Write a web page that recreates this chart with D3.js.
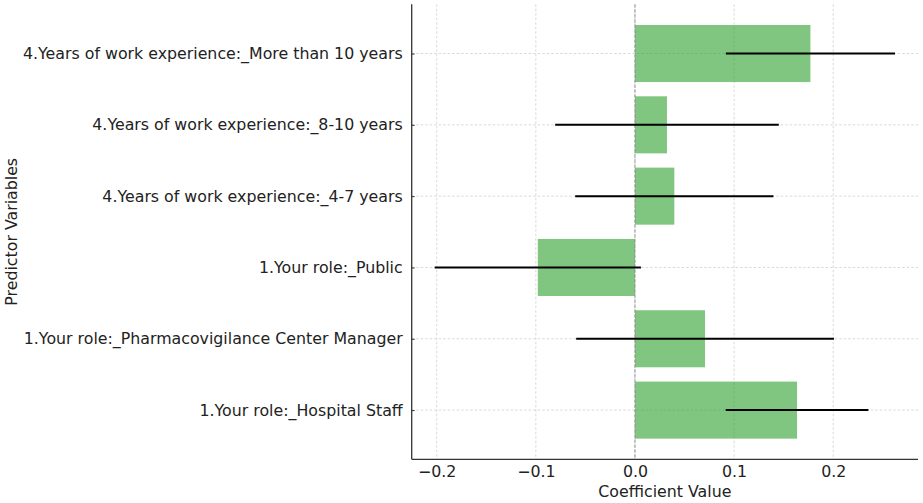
<!DOCTYPE html>
<html>
<head>
<meta charset="utf-8">
<script src="https://cdn.jsdelivr.net/npm/d3@7"></script>
<style>
  body { margin: 0; background: #fff; }
  text { font-family: "DejaVu Sans", sans-serif; }
</style>
</head>
<body>
<div id="chart"></div>
<script>
// predictors, listed bottom to top as they are drawn
let predictors = [
  '1.Your role:_Hospital Staff',
  '1.Your role:_Pharmacovigilance Center Manager',
  '1.Your role:_Public',
  '4.Years of work experience:_4-7 years',
  '4.Years of work experience:_8-10 years',
  '4.Years of work experience:_More than 10 years'
];
let coefs  = [0.1635, 0.0707, -0.0980, 0.0397, 0.0323, 0.1770]; // bar values
let errors = [0.0720, 0.1300, 0.1040, 0.1000, 0.1128, 0.0853]; // half width of the error bars
let xTicks = [-0.2, -0.1, 0.0, 0.1, 0.2];

let width  = 923;
let height = 503;
let margin = { top: 4.3, bottom: 43.7, left: 411.7, right: 5 };
let fontSize = '15.8px';

let svg = d3.select('#chart')
  .append('svg')
  .attr('width', width)
  .attr('height', height);

// x range padded 5% past the error bar ends, like the reference
let lo = d3.min(coefs, (d, i) => d - errors[i]);
let hi = d3.max(coefs, (d, i) => d + errors[i]);
let pad = (hi - lo) * 0.05;

let xScale = d3.scaleLinear()
  .domain([lo - pad, hi + pad])
  .range([margin.left, width - margin.right]);

let yScale = d3.scaleLinear()
  .domain([-0.4 - 0.29, predictors.length - 0.6 + 0.29])
  .range([height - margin.bottom, margin.top]);

let barH = yScale(0) - yScale(0.8);

// grid
svg.append('g')
  .selectAll('line.vgrid')
  .data(xTicks)
  .enter()
  .append('line')
  .attr('x1', d => xScale(d))
  .attr('x2', d => xScale(d))
  .attr('y1', margin.top)
  .attr('y2', height - margin.bottom)
  .attr('stroke', '#cfcfcf')
  .attr('stroke-width', 0.8)
  .attr('stroke-dasharray', '2.5,2');

svg.append('g')
  .selectAll('line.hgrid')
  .data(predictors)
  .enter()
  .append('line')
  .attr('x1', margin.left)
  .attr('x2', width - margin.right)
  .attr('y1', (d, i) => yScale(i))
  .attr('y2', (d, i) => yScale(i))
  .attr('stroke', '#cfcfcf')
  .attr('stroke-width', 0.8)
  .attr('stroke-dasharray', '2.5,2');

// bars
svg.append('g')
  .selectAll('rect')
  .data(coefs)
  .enter()
  .append('rect')
  .attr('x', d => xScale(Math.min(0, d)))
  .attr('y', (d, i) => yScale(i) - barH / 2)
  .attr('width', d => Math.abs(xScale(d) - xScale(0)))
  .attr('height', barH)
  .attr('fill', '#2ca02c')
  .attr('fill-opacity', 0.6);

// zero line
svg.append('line')
  .attr('x1', xScale(0))
  .attr('x2', xScale(0))
  .attr('y1', margin.top)
  .attr('y2', height - margin.bottom)
  .attr('stroke', '#8c8c8c')
  .attr('stroke-width', 0.9)
  .attr('stroke-dasharray', '3.5,1.5');

// error bars
svg.append('g')
  .selectAll('line.err')
  .data(coefs)
  .enter()
  .append('line')
  .attr('x1', (d, i) => xScale(d - errors[i]))
  .attr('x2', (d, i) => xScale(d + errors[i]))
  .attr('y1', (d, i) => yScale(i))
  .attr('y2', (d, i) => yScale(i))
  .attr('stroke', '#000')
  .attr('stroke-width', 2);

// axes
let xAxis = svg.append('g')
  .attr('transform', `translate(0,${height - margin.bottom})`)
  .call(d3.axisBottom(xScale).tickValues(xTicks).tickFormat(d3.format('.1f')).tickSize(0).tickPadding(6));

let yAxis = svg.append('g')
  .attr('transform', `translate(${margin.left},0)`)
  .call(d3.axisLeft(yScale).tickValues(d3.range(predictors.length)).tickFormat(i => predictors[i]).tickSize(-3).tickPadding(9));

[xAxis, yAxis].forEach(ax => {
  ax.select('.domain').attr('stroke', '#333').attr('stroke-width', 1.3);
  ax.selectAll('.tick line').attr('stroke', '#333');
  ax.selectAll('.tick text').attr('fill', '#222').style('font-size', fontSize);
});
yAxis.select('.domain').attr('d', `M0,${margin.top}V${height - margin.bottom}`);
xAxis.select('.domain').attr('d', `M${margin.left},0H${width - margin.right}`);

// labels
svg.append('text')
  .attr('x', (margin.left + width - margin.right) / 2)
  .attr('y', 497)
  .attr('text-anchor', 'middle')
  .style('font-size', fontSize)
  .attr('fill', '#222')
  .text('Coefficient Value');

svg.append('text')
  .attr('transform', `translate(17,${(margin.top + height - margin.bottom) / 2}) rotate(-90)`)
  .attr('text-anchor', 'middle')
  .style('font-size', fontSize)
  .attr('fill', '#222')
  .text('Predictor Variables');
</script>
</body>
</html>
